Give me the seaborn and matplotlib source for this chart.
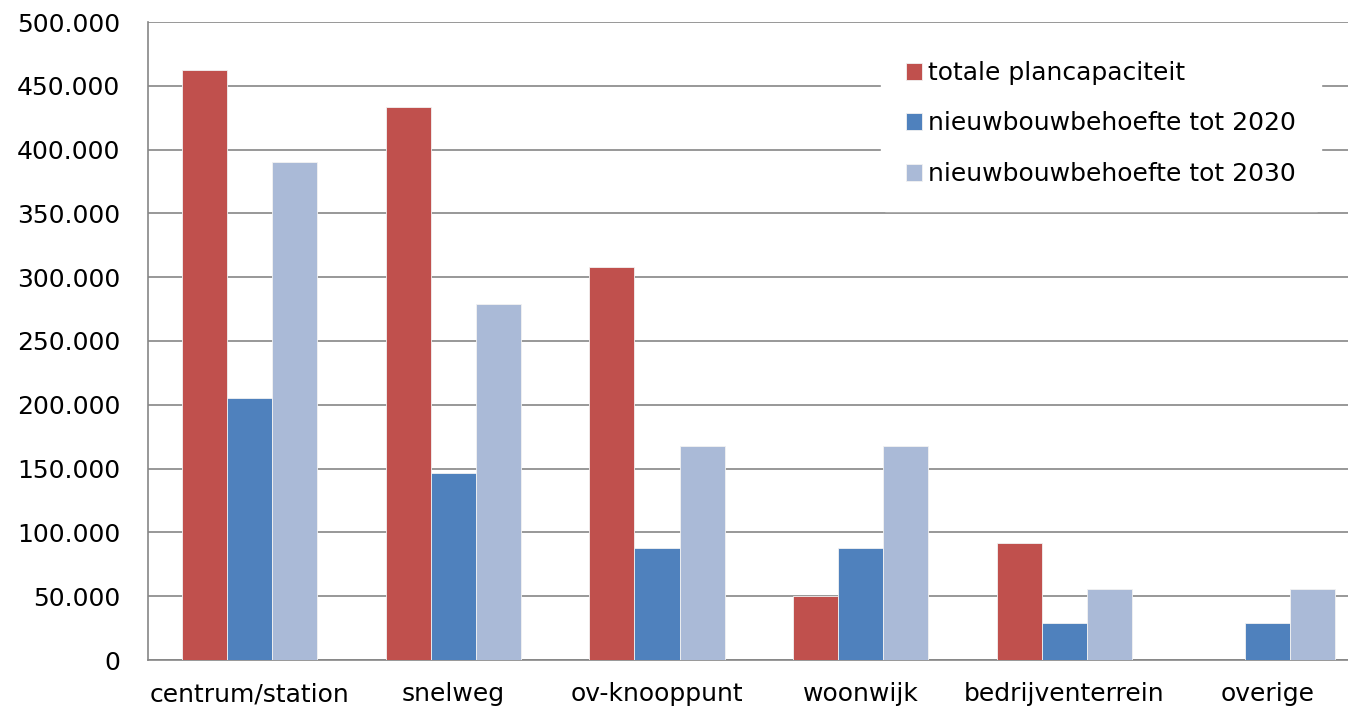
import pandas as pd
import matplotlib
matplotlib.use("Agg")
import matplotlib.pyplot as plt
import seaborn as sns
from matplotlib.ticker import FuncFormatter, FixedLocator

# === DATA ===
categories = ["centrum/station", "snelweg", "ov-knooppunt", "woonwijk", "bedrijventerrein", "overige"]
series = ["totale plancapaciteit", "nieuwbouwbehoefte tot 2020", "nieuwbouwbehoefte tot 2030"]
plancapaciteit = [462000, 433000, 308000, 50000, 91500, 0]
behoefte_2020 = [205000, 146500, 88000, 88000, 29000, 29000]
behoefte_2030 = [390500, 279000, 167500, 167500, 55500, 55500]
colors = ["#C0504D", "#4F81BD", "#AABAD7"]

rows = []
for name, vals in zip(series, [plancapaciteit, behoefte_2020, behoefte_2030]):
    for cat, v in zip(categories, vals):
        rows.append({"Locatie": cat, "Serie": name, "Waarde": v})
df = pd.DataFrame(rows)

# === Plot ===
sns.set_style("white")
plt.rcParams["font.family"] = ["DejaVu Sans"]
plt.rcParams["text.color"] = "black"
plt.rcParams["xtick.labelcolor"] = "black"
plt.rcParams["ytick.labelcolor"] = "black"

fig = plt.figure(figsize=(13.48, 7.07), dpi=100)
ax = fig.add_axes([148 / 1348, 1 - 660 / 707, 1221.6 / 1348, 638 / 707])

sns.barplot(
    data=df,
    x="Locatie",
    y="Waarde",
    hue="Serie",
    hue_order=series,
    palette=colors,
    width=0.664,
    saturation=1,
    edgecolor="#F2F2F2",
    linewidth=0.6,
    ax=ax,
    zorder=3,
)

ax.set_ylim(0, 500000)
ax.set_xlim(-0.5, len(categories) - 0.5)
ax.set_yticks(range(0, 500001, 50000))
ax.yaxis.set_major_formatter(FuncFormatter(lambda v, p: f"{int(v):,}".replace(",", ".")))
ax.grid(axis="y", color="#868686", linewidth=1.2, zorder=0)
ax.set_axisbelow(True)

# category boundaries as tick marks, labels in the middle
ax.xaxis.set_major_locator(FixedLocator([i - 0.5 for i in range(len(categories) + 1)]))
ax.xaxis.set_major_formatter(FuncFormatter(lambda v, p: ""))
ax.xaxis.set_minor_locator(FixedLocator(list(range(len(categories)))))
ax.set_xticklabels(categories, minor=True)
ax.tick_params(axis="x", which="major", length=8, width=1.2, color="#868686", direction="out")
ax.tick_params(axis="x", which="minor", length=0, labelsize=18, pad=16, labelcolor="black")
ax.tick_params(axis="y", length=8, width=1.2, color="#868686", direction="out", labelsize=18, pad=12, labelcolor="black")

for side in ["top", "right"]:
    ax.spines[side].set_visible(False)
for side in ["left", "bottom"]:
    ax.spines[side].set_color("#868686")
    ax.spines[side].set_linewidth(1.2)

ax.set_xlabel("")
ax.set_ylabel("")

handles, labels = ax.get_legend_handles_labels()
leg = ax.legend(
    handles, labels,
    loc="upper left",
    bbox_to_anchor=(733 / 1221.6, 1 - 14 / 638),
    frameon=True,
    facecolor="white",
    edgecolor="white",
    framealpha=1,
    fontsize=18,
    handlelength=0.65,
    handleheight=0.65,
    handletextpad=0.25,
    labelspacing=1.06,
    borderpad=1.0,
    borderaxespad=0,
)
leg.set_zorder(5)

fig.savefig("out.png", dpi=100)
